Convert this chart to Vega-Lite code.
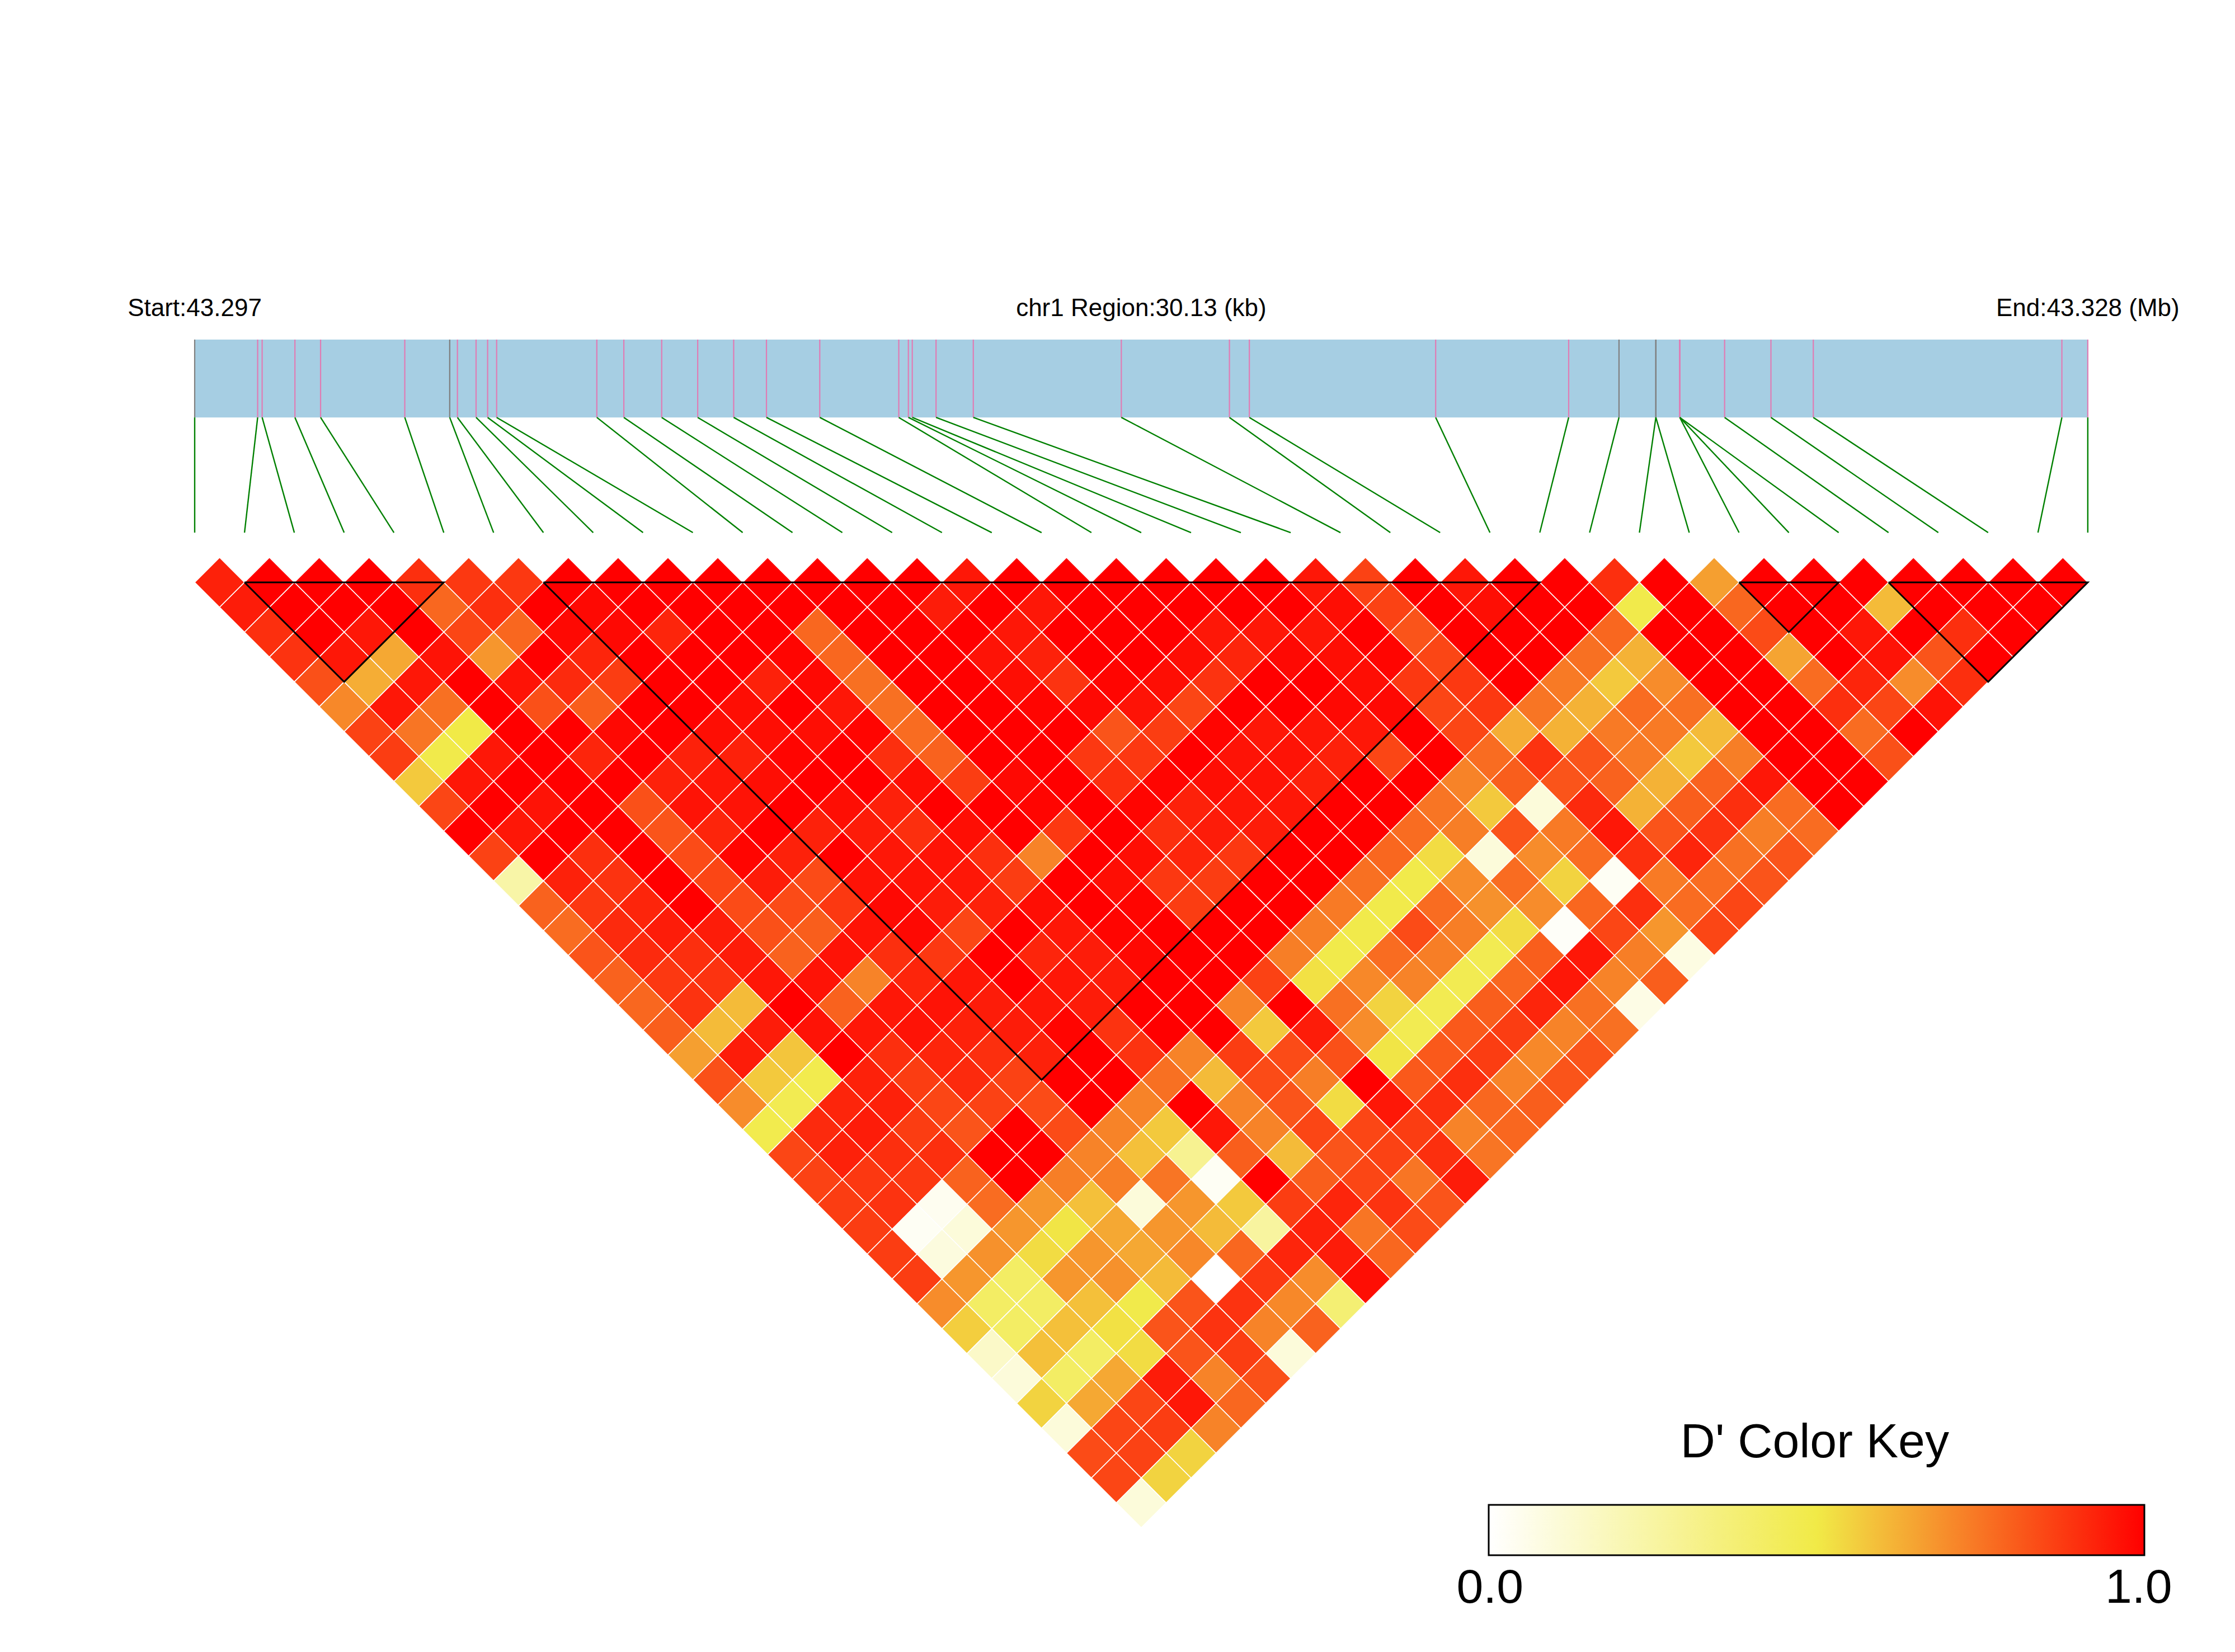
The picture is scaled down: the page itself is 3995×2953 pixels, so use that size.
{"$schema":"https://vega.github.io/schema/vega-lite/v6.json","width":3995,"height":2953,"padding":0,"autosize":{"type":"none"},"background":"white","config":{"view":{"stroke":null},"axis":{"disable":true}},
"datasets":{
"labels":[{"t":"Start:43.297","u":0},{"t":"chr1 Region:30.13 (kb)","u":19},{"t":"End:43.328 (Mb)","u":38}],
"keyText":[{"t":"D' Color Key","u":32.52,"l":36.17},{"t":"0.0","u":26,"l":42.02},{"t":"1.0","u":39.02,"l":42.02}],
"region":[{"a":0,"b":38}],
"snps":[{"u":0,"p":0,"k":"g"},{"u":1,"p":1.264,"k":"p"},{"u":2,"p":1.354,"k":"p"},{"u":3,"p":2.012,"k":"p"},{"u":4,"p":2.527,"k":"p"},{"u":5,"p":4.217,"k":"p"},{"u":6,"p":5.119,"k":"g"},{"u":7,"p":5.274,"k":"p"},{"u":8,"p":5.648,"k":"p"},{"u":9,"p":5.88,"k":"p"},{"u":10,"p":6.061,"k":"p"},{"u":11,"p":8.072,"k":"p"},{"u":12,"p":8.614,"k":"p"},{"u":13,"p":9.374,"k":"p"},{"u":14,"p":10.097,"k":"p"},{"u":15,"p":10.819,"k":"p"},{"u":16,"p":11.477,"k":"p"},{"u":17,"p":12.547,"k":"p"},{"u":18,"p":14.133,"k":"p"},{"u":19,"p":14.326,"k":"p"},{"u":20,"p":14.404,"k":"p"},{"u":21,"p":14.881,"k":"p"},{"u":22,"p":15.629,"k":"p"},{"u":23,"p":18.6,"k":"p"},{"u":24,"p":20.77,"k":"p"},{"u":25,"p":21.17,"k":"p"},{"u":26,"p":24.91,"k":"p"},{"u":27,"p":27.58,"k":"p"},{"u":28,"p":28.59,"k":"g"},{"u":29,"p":29.33,"k":"g"},{"u":30,"p":29.33,"k":"g"},{"u":31,"p":29.81,"k":"p"},{"u":32,"p":29.81,"k":"p"},{"u":33,"p":29.81,"k":"p"},{"u":34,"p":30.71,"k":"p"},{"u":35,"p":31.64,"k":"p"},{"u":36,"p":32.49,"k":"p"},{"u":37,"p":37.48,"k":"p"},{"u":38,"p":38,"k":"p"}],
"blocks":[{"b":1,"o":0,"m":1,"l":1},{"b":1,"o":1,"m":5,"l":1},{"b":1,"o":2,"m":3,"l":5},{"b":1,"o":3,"m":1,"l":1},{"b":2,"o":0,"m":7,"l":1},{"b":2,"o":1,"m":27,"l":1},{"b":2,"o":2,"m":17,"l":21},{"b":2,"o":3,"m":7,"l":1},{"b":3,"o":0,"m":31,"l":1},{"b":3,"o":1,"m":33,"l":1},{"b":3,"o":2,"m":32,"l":3},{"b":3,"o":3,"m":31,"l":1},{"b":4,"o":0,"m":34,"l":1},{"b":4,"o":1,"m":38,"l":1},{"b":4,"o":2,"m":36,"l":5},{"b":4,"o":3,"m":34,"l":1}],
"cells":[
{"m":0.5,"l":1,"d":0.93},{"m":1.5,"l":1,"d":1},{"m":2.5,"l":1,"d":1},{"m":3.5,"l":1,"d":1},{"m":4.5,"l":1,"d":0.9},{"m":5.5,"l":1,"d":0.88},{"m":6.5,"l":1,"d":0.88},{"m":7.5,"l":1,"d":1},{"m":8.5,"l":1,"d":1},{"m":9.5,"l":1,"d":1},{"m":10.5,"l":1,"d":1},{"m":11.5,"l":1,"d":1},{"m":12.5,"l":1,"d":1},{"m":13.5,"l":1,"d":1},{"m":14.5,"l":1,"d":1},{"m":15.5,"l":1,"d":0.95},{"m":16.5,"l":1,"d":1},{"m":17.5,"l":1,"d":1},{"m":18.5,"l":1,"d":1},{"m":19.5,"l":1,"d":1},{"m":20.5,"l":1,"d":1},{"m":21.5,"l":1,"d":1},{"m":22.5,"l":1,"d":0.95},{"m":23.5,"l":1,"d":0.86},{"m":24.5,"l":1,"d":1},{"m":25.5,"l":1,"d":0.95},{"m":26.5,"l":1,"d":1},{"m":27.5,"l":1,"d":1},{"m":28.5,"l":1,"d":0.9},{"m":29.5,"l":1,"d":1},{"m":30.5,"l":1,"d":0.66},{"m":31.5,"l":1,"d":1},{"m":32.5,"l":1,"d":1},{"m":33.5,"l":1,"d":1},{"m":34.5,"l":1,"d":1},{"m":35.5,"l":1,"d":1},{"m":36.5,"l":1,"d":1},{"m":37.5,"l":1,"d":1},
{"m":1,"l":2,"d":0.94},{"m":2,"l":2,"d":1},{"m":3,"l":2,"d":1},{"m":4,"l":2,"d":1},{"m":5,"l":2,"d":0.78},{"m":6,"l":2,"d":0.9},{"m":7,"l":2,"d":1},{"m":8,"l":2,"d":0.98},{"m":9,"l":2,"d":1},{"m":10,"l":2,"d":1},{"m":11,"l":2,"d":1},{"m":12,"l":2,"d":1},{"m":13,"l":2,"d":1},{"m":14,"l":2,"d":1},{"m":15,"l":2,"d":0.94},{"m":16,"l":2,"d":1},{"m":17,"l":2,"d":0.95},{"m":18,"l":2,"d":1},{"m":19,"l":2,"d":1},{"m":20,"l":2,"d":1},{"m":21,"l":2,"d":1},{"m":22,"l":2,"d":1},{"m":23,"l":2,"d":0.97},{"m":24,"l":2,"d":0.86},{"m":25,"l":2,"d":1},{"m":26,"l":2,"d":0.97},{"m":27,"l":2,"d":1},{"m":28,"l":2,"d":1},{"m":29,"l":2,"d":0.49},{"m":30,"l":2,"d":1},{"m":31,"l":2,"d":0.78},{"m":32,"l":2,"d":1},{"m":33,"l":2,"d":1},{"m":34,"l":2,"d":0.6},{"m":35,"l":2,"d":1},{"m":36,"l":2,"d":1},{"m":37,"l":2,"d":1},
{"m":1.5,"l":3,"d":0.9},{"m":2.5,"l":3,"d":1},{"m":3.5,"l":3,"d":0.95},{"m":4.5,"l":3,"d":1},{"m":5.5,"l":3,"d":0.85},{"m":6.5,"l":3,"d":0.78},{"m":7.5,"l":3,"d":0.98},{"m":8.5,"l":3,"d":0.98},{"m":9.5,"l":3,"d":0.92},{"m":10.5,"l":3,"d":1},{"m":11.5,"l":3,"d":1},{"m":12.5,"l":3,"d":0.78},{"m":13.5,"l":3,"d":1},{"m":14.5,"l":3,"d":1},{"m":15.5,"l":3,"d":1},{"m":16.5,"l":3,"d":0.95},{"m":17.5,"l":3,"d":1},{"m":18.5,"l":3,"d":1},{"m":19.5,"l":3,"d":1},{"m":20.5,"l":3,"d":0.95},{"m":21.5,"l":3,"d":0.95},{"m":22.5,"l":3,"d":0.95},{"m":23.5,"l":3,"d":1},{"m":24.5,"l":3,"d":0.82},{"m":25.5,"l":3,"d":1},{"m":26.5,"l":3,"d":1},{"m":27.5,"l":3,"d":1},{"m":28.5,"l":3,"d":0.78},{"m":29.5,"l":3,"d":1},{"m":30.5,"l":3,"d":1},{"m":31.5,"l":3,"d":0.84},{"m":32.5,"l":3,"d":1},{"m":33.5,"l":3,"d":0.95},{"m":34.5,"l":3,"d":1},{"m":35.5,"l":3,"d":0.9},{"m":36.5,"l":3,"d":1},
{"m":2,"l":4,"d":0.89},{"m":3,"l":4,"d":0.95},{"m":4,"l":4,"d":0.64},{"m":5,"l":4,"d":0.96},{"m":6,"l":4,"d":0.68},{"m":7,"l":4,"d":1},{"m":8,"l":4,"d":0.92},{"m":9,"l":4,"d":1},{"m":10,"l":4,"d":1},{"m":11,"l":4,"d":1},{"m":12,"l":4,"d":0.99},{"m":13,"l":4,"d":0.78},{"m":14,"l":4,"d":1},{"m":15,"l":4,"d":1},{"m":16,"l":4,"d":0.96},{"m":17,"l":4,"d":0.93},{"m":18,"l":4,"d":1},{"m":19,"l":4,"d":1},{"m":20,"l":4,"d":0.97},{"m":21,"l":4,"d":0.92},{"m":22,"l":4,"d":0.98},{"m":23,"l":4,"d":0.97},{"m":24,"l":4,"d":0.99},{"m":25,"l":4,"d":0.85},{"m":26,"l":4,"d":1},{"m":27,"l":4,"d":1},{"m":28,"l":4,"d":0.76},{"m":29,"l":4,"d":0.62},{"m":30,"l":4,"d":1},{"m":31,"l":4,"d":1},{"m":32,"l":4,"d":0.65},{"m":33,"l":4,"d":1},{"m":34,"l":4,"d":0.96},{"m":35,"l":4,"d":0.82},{"m":36,"l":4,"d":1},
{"m":2.5,"l":5,"d":0.83},{"m":3.5,"l":5,"d":0.63},{"m":4.5,"l":5,"d":0.95},{"m":5.5,"l":5,"d":1},{"m":6.5,"l":5,"d":0.96},{"m":7.5,"l":5,"d":0.91},{"m":8.5,"l":5,"d":0.87},{"m":9.5,"l":5,"d":1},{"m":10.5,"l":5,"d":1},{"m":11.5,"l":5,"d":0.93},{"m":12.5,"l":5,"d":0.98},{"m":13.5,"l":5,"d":0.76},{"m":14.5,"l":5,"d":1},{"m":15.5,"l":5,"d":1},{"m":16.5,"l":5,"d":0.97},{"m":17.5,"l":5,"d":0.89},{"m":18.5,"l":5,"d":0.99},{"m":19.5,"l":5,"d":0.97},{"m":20.5,"l":5,"d":0.89},{"m":21.5,"l":5,"d":1},{"m":22.5,"l":5,"d":1},{"m":23.5,"l":5,"d":0.97},{"m":24.5,"l":5,"d":0.88},{"m":25.5,"l":5,"d":0.88},{"m":26.5,"l":5,"d":1},{"m":27.5,"l":5,"d":0.74},{"m":28.5,"l":5,"d":0.57},{"m":29.5,"l":5,"d":0.7},{"m":30.5,"l":5,"d":1},{"m":31.5,"l":5,"d":1},{"m":32.5,"l":5,"d":0.77},{"m":33.5,"l":5,"d":0.92},{"m":34.5,"l":5,"d":0.7},{"m":35.5,"l":5,"d":0.9},
{"m":3,"l":6,"d":0.71},{"m":4,"l":6,"d":0.95},{"m":5,"l":6,"d":0.76},{"m":6,"l":6,"d":1},{"m":7,"l":6,"d":0.83},{"m":8,"l":6,"d":0.8},{"m":9,"l":6,"d":1},{"m":10,"l":6,"d":1},{"m":11,"l":6,"d":0.97},{"m":12,"l":6,"d":1},{"m":13,"l":6,"d":0.95},{"m":14,"l":6,"d":0.76},{"m":15,"l":6,"d":1},{"m":16,"l":6,"d":1},{"m":17,"l":6,"d":0.99},{"m":18,"l":6,"d":0.98},{"m":19,"l":6,"d":0.96},{"m":20,"l":6,"d":0.85},{"m":21,"l":6,"d":1},{"m":22,"l":6,"d":1},{"m":23,"l":6,"d":0.98},{"m":24,"l":6,"d":0.98},{"m":25,"l":6,"d":0.85},{"m":26,"l":6,"d":0.88},{"m":27,"l":6,"d":0.75},{"m":28,"l":6,"d":0.62},{"m":29,"l":6,"d":0.77},{"m":30,"l":6,"d":0.76},{"m":31,"l":6,"d":1},{"m":32,"l":6,"d":1},{"m":33,"l":6,"d":0.9},{"m":34,"l":6,"d":0.85},{"m":35,"l":6,"d":0.96},
{"m":3.5,"l":7,"d":0.86},{"m":4.5,"l":7,"d":0.75},{"m":5.5,"l":7,"d":0.5},{"m":6.5,"l":7,"d":1},{"m":7.5,"l":7,"d":1},{"m":8.5,"l":7,"d":0.98},{"m":9.5,"l":7,"d":1},{"m":10.5,"l":7,"d":0.97},{"m":11.5,"l":7,"d":0.97},{"m":12.5,"l":7,"d":0.97},{"m":13.5,"l":7,"d":0.99},{"m":14.5,"l":7,"d":0.77},{"m":15.5,"l":7,"d":1},{"m":16.5,"l":7,"d":1},{"m":17.5,"l":7,"d":1},{"m":18.5,"l":7,"d":0.82},{"m":19.5,"l":7,"d":0.87},{"m":20.5,"l":7,"d":0.99},{"m":21.5,"l":7,"d":0.95},{"m":22.5,"l":7,"d":0.95},{"m":23.5,"l":7,"d":0.95},{"m":24.5,"l":7,"d":1},{"m":25.5,"l":7,"d":0.85},{"m":26.5,"l":7,"d":0.63},{"m":27.5,"l":7,"d":0.62},{"m":28.5,"l":7,"d":0.74},{"m":29.5,"l":7,"d":0.74},{"m":30.5,"l":7,"d":0.6},{"m":31.5,"l":7,"d":1},{"m":32.5,"l":7,"d":1},{"m":33.5,"l":7,"d":0.77},{"m":34.5,"l":7,"d":1},
{"m":4,"l":8,"d":0.87},{"m":5,"l":8,"d":0.49},{"m":6,"l":8,"d":0.95},{"m":7,"l":8,"d":1},{"m":8,"l":8,"d":0.92},{"m":9,"l":8,"d":1},{"m":10,"l":8,"d":0.93},{"m":11,"l":8,"d":0.93},{"m":12,"l":8,"d":0.99},{"m":13,"l":8,"d":1},{"m":14,"l":8,"d":0.9},{"m":15,"l":8,"d":0.79},{"m":16,"l":8,"d":1},{"m":17,"l":8,"d":1},{"m":18,"l":8,"d":0.88},{"m":19,"l":8,"d":0.88},{"m":20,"l":8,"d":1},{"m":21,"l":8,"d":0.96},{"m":22,"l":8,"d":0.96},{"m":23,"l":8,"d":0.93},{"m":24,"l":8,"d":0.85},{"m":25,"l":8,"d":1},{"m":26,"l":8,"d":0.77},{"m":27,"l":8,"d":0.89},{"m":28,"l":8,"d":0.82},{"m":29,"l":8,"d":0.74},{"m":30,"l":8,"d":0.57},{"m":31,"l":8,"d":0.73},{"m":32,"l":8,"d":1},{"m":33,"l":8,"d":1},{"m":34,"l":8,"d":0.83},
{"m":4.5,"l":9,"d":0.57},{"m":5.5,"l":9,"d":0.95},{"m":6.5,"l":9,"d":1},{"m":7.5,"l":9,"d":1},{"m":8.5,"l":9,"d":1},{"m":9.5,"l":9,"d":0.93},{"m":10.5,"l":9,"d":0.95},{"m":11.5,"l":9,"d":0.97},{"m":12.5,"l":9,"d":1},{"m":13.5,"l":9,"d":1},{"m":14.5,"l":9,"d":0.97},{"m":15.5,"l":9,"d":0.87},{"m":16.5,"l":9,"d":0.98},{"m":17.5,"l":9,"d":1},{"m":18.5,"l":9,"d":0.9},{"m":19.5,"l":9,"d":0.99},{"m":20.5,"l":9,"d":0.97},{"m":21.5,"l":9,"d":0.96},{"m":22.5,"l":9,"d":0.93},{"m":23.5,"l":9,"d":1},{"m":24.5,"l":9,"d":1},{"m":25.5,"l":9,"d":0.72},{"m":26.5,"l":9,"d":0.8},{"m":27.5,"l":9,"d":0.82},{"m":28.5,"l":9,"d":0.79},{"m":29.5,"l":9,"d":0.62},{"m":30.5,"l":9,"d":0.79},{"m":31.5,"l":9,"d":0.95},{"m":32.5,"l":9,"d":1},{"m":33.5,"l":9,"d":1},
{"m":5,"l":10,"d":0.85},{"m":6,"l":10,"d":1},{"m":7,"l":10,"d":0.96},{"m":8,"l":10,"d":1},{"m":9,"l":10,"d":0.83},{"m":10,"l":10,"d":0.96},{"m":11,"l":10,"d":0.96},{"m":12,"l":10,"d":1},{"m":13,"l":10,"d":0.97},{"m":14,"l":10,"d":0.93},{"m":15,"l":10,"d":1},{"m":16,"l":10,"d":1},{"m":17,"l":10,"d":0.99},{"m":18,"l":10,"d":1},{"m":19,"l":10,"d":0.99},{"m":20,"l":10,"d":0.93},{"m":21,"l":10,"d":0.95},{"m":22,"l":10,"d":0.95},{"m":23,"l":10,"d":1},{"m":24,"l":10,"d":1},{"m":25,"l":10,"d":0.75},{"m":26,"l":10,"d":0.57},{"m":27,"l":10,"d":0.1},{"m":28,"l":10,"d":0.91},{"m":29,"l":10,"d":0.62},{"m":30,"l":10,"d":0.8},{"m":31,"l":10,"d":0.9},{"m":32,"l":10,"d":0.77},{"m":33,"l":10,"d":1},
{"m":5.5,"l":11,"d":1},{"m":6.5,"l":11,"d":0.95},{"m":7.5,"l":11,"d":1},{"m":8.5,"l":11,"d":1},{"m":9.5,"l":11,"d":0.82},{"m":10.5,"l":11,"d":0.92},{"m":11.5,"l":11,"d":1},{"m":12.5,"l":11,"d":0.93},{"m":13.5,"l":11,"d":0.94},{"m":14.5,"l":11,"d":0.9},{"m":15.5,"l":11,"d":0.97},{"m":16.5,"l":11,"d":1},{"m":17.5,"l":11,"d":0.88},{"m":18.5,"l":11,"d":1},{"m":19.5,"l":11,"d":0.9},{"m":20.5,"l":11,"d":0.94},{"m":21.5,"l":11,"d":0.94},{"m":22.5,"l":11,"d":1},{"m":23.5,"l":11,"d":1},{"m":24.5,"l":11,"d":0.77},{"m":25.5,"l":11,"d":0.73},{"m":26.5,"l":11,"d":0.82},{"m":27.5,"l":11,"d":0.74},{"m":28.5,"l":11,"d":0.95},{"m":29.5,"l":11,"d":0.82},{"m":30.5,"l":11,"d":0.89},{"m":31.5,"l":11,"d":0.73},{"m":32.5,"l":11,"d":0.77},
{"m":6,"l":12,"d":0.86},{"m":7,"l":12,"d":1},{"m":8,"l":12,"d":0.9},{"m":9,"l":12,"d":1},{"m":10,"l":12,"d":0.84},{"m":11,"l":12,"d":0.99},{"m":12,"l":12,"d":0.93},{"m":13,"l":12,"d":1},{"m":14,"l":12,"d":0.95},{"m":15,"l":12,"d":0.96},{"m":16,"l":12,"d":0.9},{"m":17,"l":12,"d":0.72},{"m":18,"l":12,"d":1},{"m":19,"l":12,"d":0.97},{"m":20,"l":12,"d":0.92},{"m":21,"l":12,"d":0.88},{"m":22,"l":12,"d":1},{"m":23,"l":12,"d":1},{"m":24,"l":12,"d":0.78},{"m":25,"l":12,"d":0.53},{"m":26,"l":12,"d":0.1},{"m":27,"l":12,"d":0.7},{"m":28,"l":12,"d":0.77},{"m":29,"l":12,"d":0.9},{"m":30,"l":12,"d":0.92},{"m":31,"l":12,"d":0.76},{"m":32,"l":12,"d":0.82},
{"m":6.5,"l":13,"d":0.24},{"m":7.5,"l":13,"d":0.93},{"m":8.5,"l":13,"d":0.89},{"m":9.5,"l":13,"d":1},{"m":10.5,"l":13,"d":0.85},{"m":11.5,"l":13,"d":0.94},{"m":12.5,"l":13,"d":0.84},{"m":13.5,"l":13,"d":0.96},{"m":14.5,"l":13,"d":0.96},{"m":15.5,"l":13,"d":0.95},{"m":16.5,"l":13,"d":0.87},{"m":17.5,"l":13,"d":1},{"m":18.5,"l":13,"d":0.97},{"m":19.5,"l":13,"d":0.88},{"m":20.5,"l":13,"d":0.87},{"m":21.5,"l":13,"d":1},{"m":22.5,"l":13,"d":1},{"m":23.5,"l":13,"d":0.76},{"m":24.5,"l":13,"d":0.49},{"m":25.5,"l":13,"d":0.7},{"m":26.5,"l":13,"d":0.77},{"m":27.5,"l":13,"d":0.55},{"m":28.5,"l":13,"d":0.03},{"m":29.5,"l":13,"d":0.74},{"m":30.5,"l":13,"d":0.77},{"m":31.5,"l":13,"d":0.82},
{"m":7,"l":14,"d":0.79},{"m":8,"l":14,"d":0.88},{"m":9,"l":14,"d":0.92},{"m":10,"l":14,"d":1},{"m":11,"l":14,"d":0.84},{"m":12,"l":14,"d":0.84},{"m":13,"l":14,"d":0.88},{"m":14,"l":14,"d":0.98},{"m":15,"l":14,"d":0.94},{"m":16,"l":14,"d":0.93},{"m":17,"l":14,"d":0.97},{"m":18,"l":14,"d":1},{"m":19,"l":14,"d":0.99},{"m":20,"l":14,"d":0.87},{"m":21,"l":14,"d":1},{"m":22,"l":14,"d":1},{"m":23,"l":14,"d":0.74},{"m":24,"l":14,"d":0.49},{"m":25,"l":14,"d":0.77},{"m":26,"l":14,"d":0.69},{"m":27,"l":14,"d":0.7},{"m":28,"l":14,"d":0.78},{"m":29,"l":14,"d":0.9},{"m":30,"l":14,"d":0.77},{"m":31,"l":14,"d":0.85},
{"m":7.5,"l":15,"d":0.77},{"m":8.5,"l":15,"d":0.91},{"m":9.5,"l":15,"d":0.94},{"m":10.5,"l":15,"d":0.94},{"m":11.5,"l":15,"d":0.83},{"m":12.5,"l":15,"d":0.8},{"m":13.5,"l":15,"d":0.96},{"m":14.5,"l":15,"d":0.98},{"m":15.5,"l":15,"d":0.85},{"m":16.5,"l":15,"d":1},{"m":17.5,"l":15,"d":0.95},{"m":18.5,"l":15,"d":0.99},{"m":19.5,"l":15,"d":1},{"m":20.5,"l":15,"d":1},{"m":21.5,"l":15,"d":1},{"m":22.5,"l":15,"d":0.73},{"m":23.5,"l":15,"d":0.49},{"m":24.5,"l":15,"d":0.84},{"m":25.5,"l":15,"d":0.73},{"m":26.5,"l":15,"d":0.53},{"m":27.5,"l":15,"d":0.02},{"m":28.5,"l":15,"d":0.85},{"m":29.5,"l":15,"d":0.68},{"m":30.5,"l":15,"d":0.85},
{"m":8,"l":16,"d":0.82},{"m":9,"l":16,"d":0.91},{"m":10,"l":16,"d":0.9},{"m":11,"l":16,"d":0.94},{"m":12,"l":16,"d":0.79},{"m":13,"l":16,"d":0.96},{"m":14,"l":16,"d":0.9},{"m":15,"l":16,"d":0.88},{"m":16,"l":16,"d":1},{"m":17,"l":16,"d":0.92},{"m":18,"l":16,"d":0.94},{"m":19,"l":16,"d":0.98},{"m":20,"l":16,"d":1},{"m":21,"l":16,"d":1},{"m":22,"l":16,"d":0.73},{"m":23,"l":16,"d":0.49},{"m":24,"l":16,"d":0.77},{"m":25,"l":16,"d":0.73},{"m":26,"l":16,"d":0.47},{"m":27,"l":16,"d":0.8},{"m":28,"l":16,"d":0.95},{"m":29,"l":16,"d":0.73},{"m":30,"l":16,"d":0.08},
{"m":8.5,"l":17,"d":0.79},{"m":9.5,"l":17,"d":0.88},{"m":10.5,"l":17,"d":0.89},{"m":11.5,"l":17,"d":0.95},{"m":12.5,"l":17,"d":0.96},{"m":13.5,"l":17,"d":0.72},{"m":14.5,"l":17,"d":0.92},{"m":15.5,"l":17,"d":0.95},{"m":16.5,"l":17,"d":1},{"m":17.5,"l":17,"d":0.95},{"m":18.5,"l":17,"d":0.94},{"m":19.5,"l":17,"d":1},{"m":20.5,"l":17,"d":1},{"m":21.5,"l":17,"d":0.86},{"m":22.5,"l":17,"d":0.52},{"m":23.5,"l":17,"d":0.71},{"m":24.5,"l":17,"d":0.72},{"m":25.5,"l":17,"d":0.47},{"m":26.5,"l":17,"d":0.78},{"m":27.5,"l":17,"d":0.95},{"m":28.5,"l":17,"d":0.72},{"m":29.5,"l":17,"d":0.8},
{"m":9,"l":18,"d":0.78},{"m":10,"l":18,"d":0.89},{"m":11,"l":18,"d":0.6},{"m":12,"l":18,"d":1},{"m":13,"l":18,"d":0.79},{"m":14,"l":18,"d":0.95},{"m":15,"l":18,"d":0.96},{"m":16,"l":18,"d":0.94},{"m":17,"l":18,"d":0.95},{"m":18,"l":18,"d":0.94},{"m":19,"l":18,"d":1},{"m":20,"l":18,"d":1},{"m":21,"l":18,"d":0.72},{"m":22,"l":18,"d":1},{"m":23,"l":18,"d":0.76},{"m":24,"l":18,"d":0.55},{"m":25,"l":18,"d":0.47},{"m":26,"l":18,"d":0.8},{"m":27,"l":18,"d":0.92},{"m":28,"l":18,"d":0.76},{"m":29,"l":18,"d":0.07},
{"m":9.5,"l":19,"d":0.8},{"m":10.5,"l":19,"d":0.6},{"m":11.5,"l":19,"d":0.94},{"m":12.5,"l":19,"d":0.96},{"m":13.5,"l":19,"d":0.95},{"m":14.5,"l":19,"d":0.96},{"m":15.5,"l":19,"d":0.93},{"m":16.5,"l":19,"d":0.94},{"m":17.5,"l":19,"d":0.99},{"m":18.5,"l":19,"d":0.89},{"m":19.5,"l":19,"d":1},{"m":20.5,"l":19,"d":1},{"m":21.5,"l":19,"d":0.57},{"m":22.5,"l":19,"d":0.94},{"m":23.5,"l":19,"d":0.7},{"m":24.5,"l":19,"d":0.47},{"m":25.5,"l":19,"d":0.81},{"m":26.5,"l":19,"d":0.87},{"m":27.5,"l":19,"d":0.72},{"m":28.5,"l":19,"d":0.76},
{"m":10,"l":20,"d":0.66},{"m":11,"l":20,"d":0.94},{"m":12,"l":20,"d":0.58},{"m":13,"l":20,"d":1},{"m":14,"l":20,"d":0.9},{"m":15,"l":20,"d":0.92},{"m":16,"l":20,"d":0.9},{"m":17,"l":20,"d":0.93},{"m":18,"l":20,"d":1},{"m":19,"l":20,"d":0.89},{"m":20,"l":20,"d":0.72},{"m":21,"l":20,"d":0.87},{"m":22,"l":20,"d":0.84},{"m":23,"l":20,"d":0.83},{"m":24,"l":20,"d":0.51},{"m":25,"l":20,"d":0.81},{"m":26,"l":20,"d":0.87},{"m":27,"l":20,"d":0.71},{"m":28,"l":20,"d":0.82},
{"m":10.5,"l":21,"d":0.83},{"m":11.5,"l":21,"d":0.57},{"m":12.5,"l":21,"d":0.48},{"m":13.5,"l":21,"d":0.93},{"m":14.5,"l":21,"d":0.87},{"m":15.5,"l":21,"d":0.91},{"m":16.5,"l":21,"d":0.86},{"m":17.5,"l":21,"d":1},{"m":18.5,"l":21,"d":1},{"m":19.5,"l":21,"d":0.76},{"m":20.5,"l":21,"d":0.6},{"m":21.5,"l":21,"d":0.84},{"m":22.5,"l":21,"d":0.73},{"m":23.5,"l":21,"d":1},{"m":24.5,"l":21,"d":0.81},{"m":25.5,"l":21,"d":0.9},{"m":26.5,"l":21,"d":0.72},{"m":27.5,"l":21,"d":0.82},
{"m":11,"l":22,"d":0.7},{"m":12,"l":22,"d":0.47},{"m":13,"l":22,"d":0.92},{"m":14,"l":22,"d":0.93},{"m":15,"l":22,"d":0.85},{"m":16,"l":22,"d":0.86},{"m":17,"l":22,"d":0.84},{"m":18,"l":22,"d":1},{"m":19,"l":22,"d":0.72},{"m":20,"l":22,"d":1},{"m":21,"l":22,"d":0.72},{"m":22,"l":22,"d":0.82},{"m":23,"l":22,"d":0.53},{"m":24,"l":22,"d":0.95},{"m":25,"l":22,"d":0.9},{"m":26,"l":22,"d":0.78},{"m":27,"l":22,"d":0.8},
{"m":11.5,"l":23,"d":0.48},{"m":12.5,"l":23,"d":0.91},{"m":13.5,"l":23,"d":0.94},{"m":14.5,"l":23,"d":0.87},{"m":15.5,"l":23,"d":0.82},{"m":16.5,"l":23,"d":1},{"m":17.5,"l":23,"d":0.84},{"m":18.5,"l":23,"d":0.72},{"m":19.5,"l":23,"d":0.57},{"m":20.5,"l":23,"d":0.95},{"m":21.5,"l":23,"d":0.72},{"m":22.5,"l":23,"d":0.85},{"m":23.5,"l":23,"d":0.85},{"m":24.5,"l":23,"d":0.87},{"m":25.5,"l":23,"d":0.72},{"m":26.5,"l":23,"d":0.78},
{"m":12,"l":24,"d":0.85},{"m":13,"l":24,"d":0.93},{"m":14,"l":24,"d":0.9},{"m":15,"l":24,"d":0.9},{"m":16,"l":24,"d":1},{"m":17,"l":24,"d":1},{"m":18,"l":24,"d":0.72},{"m":19,"l":24,"d":0.59},{"m":20,"l":24,"d":0.3},{"m":21,"l":24,"d":0.8},{"m":22,"l":24,"d":0.6},{"m":23,"l":24,"d":0.82},{"m":24,"l":24,"d":0.86},{"m":25,"l":24,"d":0.9},{"m":26,"l":24,"d":0.75},
{"m":12.5,"l":25,"d":0.86},{"m":13.5,"l":25,"d":0.88},{"m":14.5,"l":25,"d":0.88},{"m":15.5,"l":25,"d":0.79},{"m":16.5,"l":25,"d":1},{"m":17.5,"l":25,"d":0.73},{"m":18.5,"l":25,"d":0.73},{"m":19.5,"l":25,"d":0.75},{"m":20.5,"l":25,"d":0.03},{"m":21.5,"l":25,"d":1},{"m":22.5,"l":25,"d":0.8},{"m":23.5,"l":25,"d":0.85},{"m":24.5,"l":25,"d":0.75},{"m":25.5,"l":25,"d":0.94},
{"m":13,"l":26,"d":0.87},{"m":14,"l":26,"d":0.89},{"m":15,"l":26,"d":0.04},{"m":16,"l":26,"d":0.77},{"m":17,"l":26,"d":0.68},{"m":18,"l":26,"d":0.59},{"m":19,"l":26,"d":0.1},{"m":20,"l":26,"d":0.68},{"m":21,"l":26,"d":0.57},{"m":22,"l":26,"d":0.87},{"m":23,"l":26,"d":0.92},{"m":24,"l":26,"d":0.89},{"m":25,"l":26,"d":0.82},
{"m":13.5,"l":27,"d":0.87},{"m":14.5,"l":27,"d":0.03},{"m":15.5,"l":27,"d":0.1},{"m":16.5,"l":27,"d":0.68},{"m":17.5,"l":27,"d":0.51},{"m":18.5,"l":27,"d":0.64},{"m":19.5,"l":27,"d":0.68},{"m":20.5,"l":27,"d":0.6},{"m":21.5,"l":27,"d":0.26},{"m":22.5,"l":27,"d":0.93},{"m":23.5,"l":27,"d":0.75},{"m":24.5,"l":27,"d":0.84},
{"m":14,"l":28,"d":0.87},{"m":15,"l":28,"d":0.09},{"m":16,"l":28,"d":0.69},{"m":17,"l":28,"d":0.53},{"m":18,"l":28,"d":0.68},{"m":19,"l":28,"d":0.64},{"m":20,"l":28,"d":0.71},{"m":21,"l":28,"d":0.78},{"m":22,"l":28,"d":0.92},{"m":23,"l":28,"d":0.94},{"m":24,"l":28,"d":0.78},
{"m":14.5,"l":29,"d":0.87},{"m":15.5,"l":29,"d":0.68},{"m":16.5,"l":29,"d":0.42},{"m":17.5,"l":29,"d":0.68},{"m":18.5,"l":29,"d":0.69},{"m":19.5,"l":29,"d":0.6},{"m":20.5,"l":29,"d":0},{"m":21.5,"l":29,"d":0.88},{"m":22.5,"l":29,"d":0.7},{"m":23.5,"l":29,"d":0.97},
{"m":15,"l":30,"d":0.7},{"m":16,"l":30,"d":0.42},{"m":17,"l":30,"d":0.42},{"m":18,"l":30,"d":0.59},{"m":19,"l":30,"d":0.49},{"m":20,"l":30,"d":0.82},{"m":21,"l":30,"d":0.89},{"m":22,"l":30,"d":0.71},{"m":23,"l":30,"d":0.38},
{"m":15.5,"l":31,"d":0.56},{"m":16.5,"l":31,"d":0.42},{"m":17.5,"l":31,"d":0.59},{"m":18.5,"l":31,"d":0.52},{"m":19.5,"l":31,"d":0.82},{"m":20.5,"l":31,"d":0.89},{"m":21.5,"l":31,"d":0.72},{"m":22.5,"l":31,"d":0.79},
{"m":16,"l":32,"d":0.15},{"m":17,"l":32,"d":0.59},{"m":18,"l":32,"d":0.42},{"m":19,"l":32,"d":0.53},{"m":20,"l":32,"d":0.82},{"m":21,"l":32,"d":0.87},{"m":22,"l":32,"d":0.1},
{"m":16.5,"l":33,"d":0.1},{"m":17.5,"l":33,"d":0.42},{"m":18.5,"l":33,"d":0.64},{"m":19.5,"l":33,"d":0.94},{"m":20.5,"l":33,"d":0.72},{"m":21.5,"l":33,"d":0.83},
{"m":17,"l":34,"d":0.55},{"m":18,"l":34,"d":0.64},{"m":19,"l":34,"d":0.85},{"m":20,"l":34,"d":0.95},{"m":21,"l":34,"d":0.78},
{"m":17.5,"l":35,"d":0.1},{"m":18.5,"l":35,"d":0.85},{"m":19.5,"l":35,"d":0.87},{"m":20.5,"l":35,"d":0.72},
{"m":18,"l":36,"d":0.84},{"m":19,"l":36,"d":0.86},{"m":20,"l":36,"d":0.55},
{"m":18.5,"l":37,"d":0.85},{"m":19.5,"l":37,"d":0.55},
{"m":19,"l":38,"d":0.1}
]},
"layer":[
{"data":{"name":"cells"},"mark":{"type":"point","shape":"diamond","filled":true,"opacity":1,"size":7921,"stroke":"white","strokeWidth":1.6},
"encoding":{"x":{"field":"m","type":"quantitative","scale":{"domain":[-3.908,40.955],"range":[0,3995],"nice":false,"zero":false}},"y":{"field":"l","type":"quantitative","scale":{"domain":[-22.409,43.995],"range":[0,2953],"nice":false,"zero":false}},
"color":{"field":"d","type":"quantitative","scale":{"domain":[0,0.5,1],"range":["#FFFFFF","#F1EA47","#FF0000"],"interpolate":"rgb"},
"legend":{"title":null,"labelOpacity":0,"labelFontSize":1,"values":[0,1],"orient":"none","legendX":2661,"legendY":2690,"direction":"horizontal","gradientLength":1172,"gradientThickness":90,"gradientStrokeColor":"black","gradientStrokeWidth":3}}}},
{"data":{"name":"region"},"mark":{"type":"rect","fill":"#A6CEE3"},"encoding":{"x":{"field":"a","type":"quantitative"},"x2":{"field":"b"},"y":{"datum":-8.76,"type":"quantitative"},"y2":{"datum":-5.63}}},
{"data":{"name":"snps"},"transform":[{"filter":"datum.k=='p'"}],"mark":{"type":"rule","stroke":"#E07CB4","strokeWidth":2.2},"encoding":{"x":{"field":"p","type":"quantitative"},"y":{"datum":-8.76,"type":"quantitative"},"y2":{"datum":-5.63}}},
{"data":{"name":"snps"},"transform":[{"filter":"datum.k=='g'"}],"mark":{"type":"rule","stroke":"#7F7F7F","strokeWidth":2.2},"encoding":{"x":{"field":"p","type":"quantitative"},"y":{"datum":-8.76,"type":"quantitative"},"y2":{"datum":-5.63}}},
{"data":{"name":"snps"},"mark":{"type":"rule","stroke":"#008000","strokeWidth":2.4},"encoding":{"x":{"field":"p","type":"quantitative"},"x2":{"field":"u"},"y":{"datum":-5.63,"type":"quantitative"},"y2":{"datum":-1}}},
{"data":{"name":"blocks"},"mark":{"type":"line","stroke":"black","strokeWidth":3,"strokeJoin":"miter"},"encoding":{"x":{"field":"m","type":"quantitative"},"y":{"field":"l","type":"quantitative"},"detail":{"field":"b"},"order":{"field":"o"}}},
{"data":{"name":"labels"},"mark":{"type":"text","font":"Liberation Sans","fontSize":44,"fill":"black","baseline":"alphabetic","align":"center"},"encoding":{"x":{"field":"u","type":"quantitative"},"y":{"datum":-9.7,"type":"quantitative"},"text":{"field":"t"}}},
{"data":{"name":"keyText"},"mark":{"type":"text","font":"Liberation Sans","fontSize":86,"fill":"black","baseline":"alphabetic","align":"center"},"encoding":{"x":{"field":"u","type":"quantitative"},"y":{"field":"l","type":"quantitative"},"text":{"field":"t"}}}
],
"resolve":{"scale":{"x":"shared","y":"shared"}}}
